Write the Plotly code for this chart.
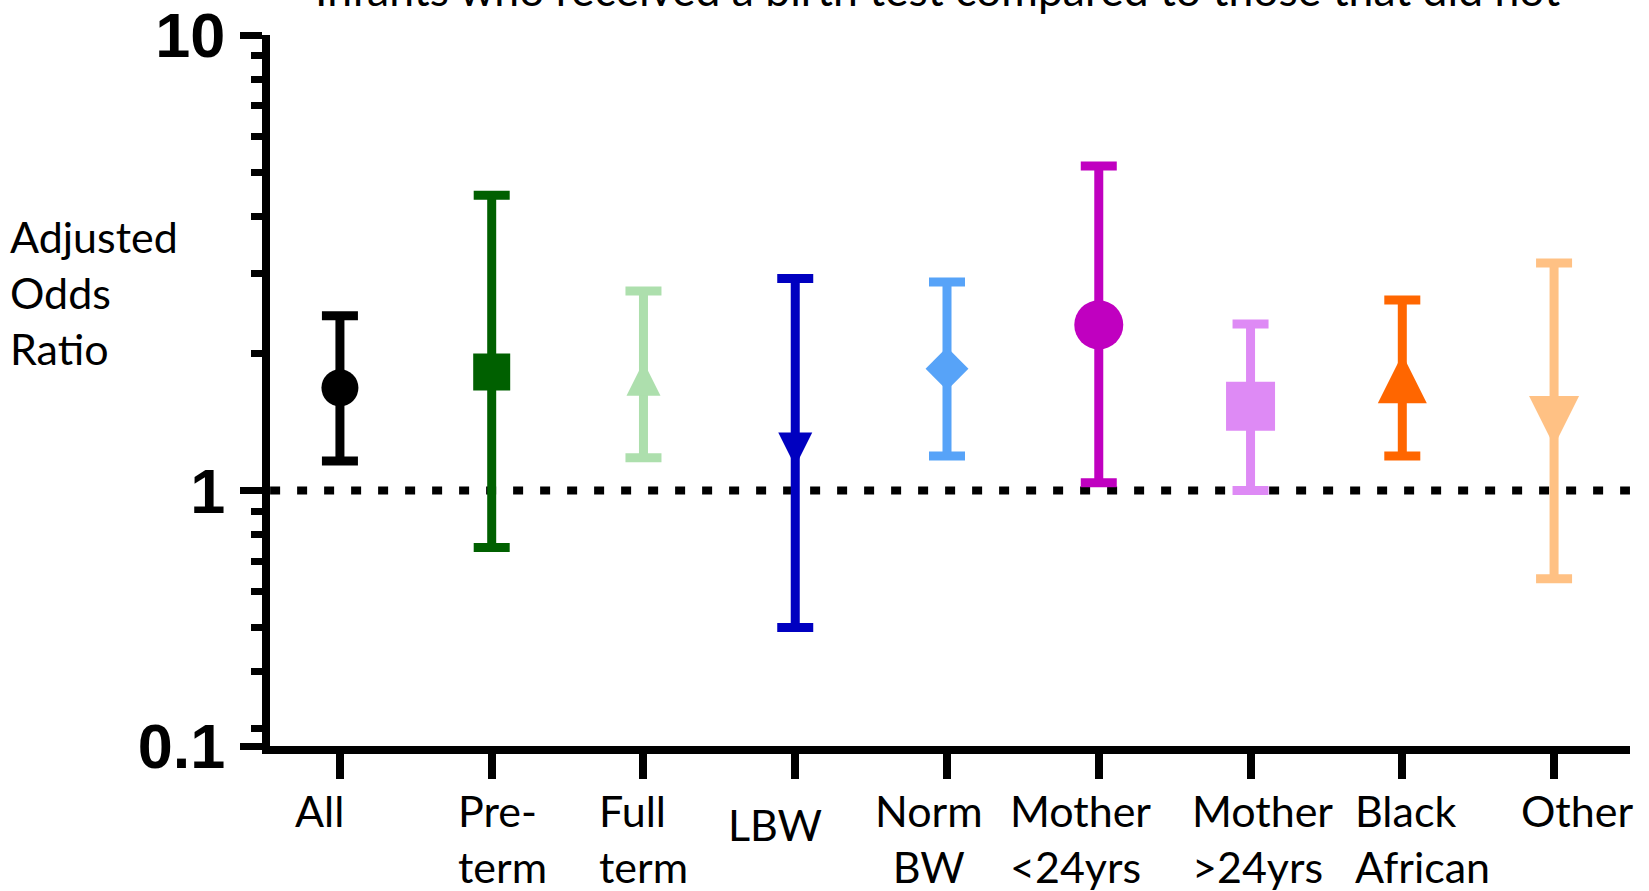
import plotly.graph_objects as go

# ---------------- data ----------------
categories = ["All", "Pre-\nterm", "Full\nterm", "LBW", "Norm\nBW",
              "Mother\n<24yrs", "Mother\n>24yrs", "Black\nAfrican", "Other"]
odds_ratio = [1.68, 1.82, 1.76, 1.23, 1.85, 2.31, 1.53, 1.76, 1.42]
ci_lower   = [1.16, 0.75, 1.18, 0.50, 1.19, 1.04, 1.00, 1.19, 0.64]
ci_upper   = [2.42, 4.45, 2.74, 2.92, 2.87, 5.16, 2.32, 2.62, 3.16]
reference_value = 1
y_tick_values = [10 ** -0.561, 1, 10]
y_tick_labels = ["0.1", "1", "10"]
y_minor_values = [0.3, 0.4, 0.5, 0.6, 0.7, 0.8, 0.9, 2, 3, 4, 5, 6, 7, 8, 9]
title_text = "Infants who received a birth test compared to those that did not"
y_title = "Adjusted<br>Odds<br>Ratio"

# ---------------- styles ----------------
colors = ["#000000", "#006000", "#addfad", "#0000c0", "#57a3f8",
          "#c000c0", "#de8af5", "#ff6600", "#ffc184"]
symbols = ["circle", "square", "arrow-down", "arrow-down", "diamond",
           "circle", "square", "arrow-down", "arrow-down"]
sizes = [37, 37, 34, 34, 33, 49, 49, 49, 50]
angles = [0, 0, 180, 0, 0, 0, 0, 180, 0]
standoffs = [0, 0, 17, 17, 0, 0, 0, 24.5, 25]
label_dx = [-20, 11, 0, -20, -18, -18, 12, 20, 23]
label_dy = [3, 3, 3, -11, 3, 3, 3, 3, 3]
label_align = ["center", "left", "left", "center", "center", "left", "left", "left", "center"]

FONT = "Lato, 'Open Sans', sans-serif"
xpos = list(range(len(categories)))

fig = go.Figure()

# dotted reference line at OR = 1
fig.add_trace(go.Scatter(
    x=[-0.46, 8.5], y=[reference_value, reference_value], mode="lines",
    line=dict(color="black", width=8, dash="10px,17px"),
    hoverinfo="skip", showlegend=False))

for i, cat in enumerate(categories):
    fig.add_trace(go.Scatter(
        x=[xpos[i]], y=[odds_ratio[i]], mode="markers",
        marker=dict(symbol=symbols[i], size=sizes[i], color=colors[i],
                    angle=angles[i], standoff=standoffs[i],
                    line=dict(width=0)),
        error_y=dict(type="data", symmetric=False,
                     array=[ci_upper[i] - odds_ratio[i]],
                     arrayminus=[odds_ratio[i] - ci_lower[i]],
                     color=colors[i], thickness=9, width=18),
        showlegend=False, name=cat.replace("\n", " ")))

annotations = []
for i, cat in enumerate(categories):
    annotations.append(dict(
        x=xpos[i], y=-0.0563, xref="x", yref="paper",
        text=cat.replace("\n", "<br>"), showarrow=False,
        xanchor="center", yanchor="top", align=label_align[i],
        xshift=label_dx[i], yshift=label_dy[i],
        font=dict(family=FONT, size=43, color="black")))

annotations.append(dict(
    x=-0.1925, y=0.7553, xref="paper", yref="paper", text=y_title,
    showarrow=False, xanchor="left", yanchor="top", align="left",
    font=dict(family=FONT, size=43, color="black")))

annotations.append(dict(
    x=0.4905, y=1.0253, xref="paper", yref="paper", text=title_text,
    showarrow=False, xanchor="center", yanchor="bottom",
    font=dict(family=FONT, size=44.5, color="black")))

fig.update_layout(
    width=1649, height=891,
    margin=dict(l=270, r=19, t=35, b=145, pad=0, autoexpand=False),
    paper_bgcolor="white", plot_bgcolor="white",
    annotations=annotations,
    xaxis=dict(range=[-0.4608, 8.5003], tickvals=xpos, ticktext=[""] * len(xpos),
               automargin=False,
               showline=True, linewidth=8, linecolor="black",
               ticks="outside", ticklen=25, tickwidth=8, tickcolor="black",
               showgrid=False, zeroline=False, fixedrange=True),
    yaxis=dict(type="log", range=[-0.561, 1.0],
               tickvals=y_tick_values, ticktext=y_tick_labels,
               automargin=False, ticklabeloverflow="allow",
               showline=True, linewidth=8, linecolor="black",
               ticks="outside", ticklen=22, tickwidth=7, tickcolor="black",
               tickfont=dict(family="'Liberation Sans', Arial, sans-serif", size=63,
                             color="black", weight="bold"),
               ticklabelstandoff=2,
               minor=dict(tickvals=y_minor_values, ticks="outside", ticklen=11,
                          tickwidth=7, tickcolor="black", showgrid=False),
               showgrid=False, zeroline=False, fixedrange=True),
)

fig.write_html("out.html", config={"displayModeBar": False},
               post_script="document.body.style.margin='0';document.body.style.overflow='hidden';")
